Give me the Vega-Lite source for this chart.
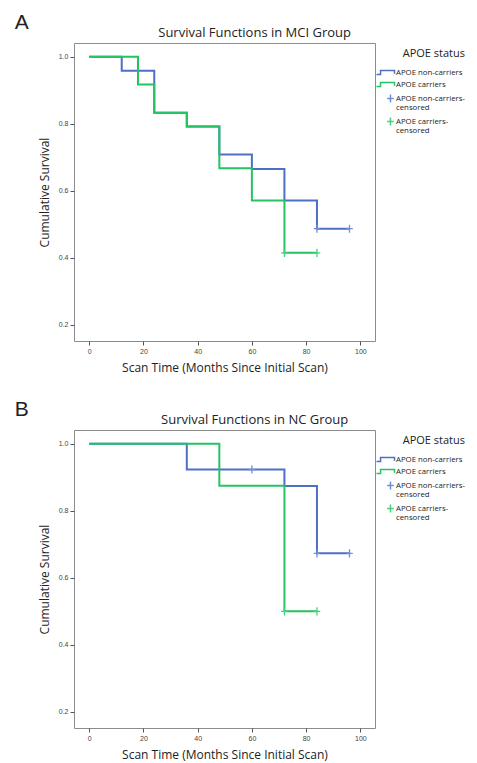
{
  "$schema": "https://vega.github.io/schema/vega-lite/v6.json",
  "padding": {"left": 14, "top": 11, "right": 0, "bottom": 0},
  "resolve": {"scale": {"color": "independent", "shape": "independent"}, "legend": {"color": "independent", "shape": "independent"}},
  "config": {
    "font": "Open Sans",
    "view": {"stroke": "#8c8c8c", "strokeWidth": 1},
    "axis": {
      "domain": false,
      "grid": false,
      "tickColor": "#555555",
      "tickSize": 4,
      "labelFont": "Liberation Sans",
      "labelFontSize": 7,
      "labelColor": "#444444",
      "labelPadding": 2,
      "titleFont": "Open Sans",
      "titleFontSize": 12,
      "titleFontWeight": "normal",
      "titleColor": "#222222"
    },
    "legend": {
      "orient": "right",
      "offset": -1,
      "padding": 5,
      "titleFont": "Open Sans",
      "titleFontSize": 11,
      "titleFontWeight": "normal",
      "titleColor": "#222222",
      "titleAnchor": "end",
      "titlePadding": 8,
      "labelFont": "Open Sans",
      "labelFontSize": 7.8,
      "labelColor": "#222222",
      "labelOffset": 5,
      "rowPadding": 1,
      "symbolSize": 81,
      "symbolStrokeWidth": 1.5
    },
    "title": {"font": "Open Sans", "fontWeight": "normal", "color": "#222222"}
  },
  "datasets": {
    "mci": [
      {"series": "APOE non-carriers", "kind": "event", "time": 0, "surv": 1.0},
      {"series": "APOE non-carriers", "kind": "event", "time": 12, "surv": 0.958},
      {"series": "APOE non-carriers", "kind": "event", "time": 24, "surv": 0.833},
      {"series": "APOE non-carriers", "kind": "event", "time": 36, "surv": 0.792},
      {"series": "APOE non-carriers", "kind": "event", "time": 48, "surv": 0.708},
      {"series": "APOE non-carriers", "kind": "event", "time": 60, "surv": 0.665},
      {"series": "APOE non-carriers", "kind": "event", "time": 72, "surv": 0.571},
      {"series": "APOE non-carriers", "kind": "event", "time": 84, "surv": 0.487},
      {"series": "APOE non-carriers", "kind": "event", "time": 96, "surv": 0.487},
      {"series": "APOE carriers", "kind": "event", "time": 0, "surv": 1.0},
      {"series": "APOE carriers", "kind": "event", "time": 18, "surv": 0.917},
      {"series": "APOE carriers", "kind": "event", "time": 24, "surv": 0.833},
      {"series": "APOE carriers", "kind": "event", "time": 36, "surv": 0.792},
      {"series": "APOE carriers", "kind": "event", "time": 48, "surv": 0.667},
      {"series": "APOE carriers", "kind": "event", "time": 60, "surv": 0.571},
      {"series": "APOE carriers", "kind": "event", "time": 72, "surv": 0.415},
      {"series": "APOE carriers", "kind": "event", "time": 84, "surv": 0.415},
      {"series": "APOE non-carriers-censored", "kind": "censor", "time": 84, "surv": 0.487},
      {"series": "APOE non-carriers-censored", "kind": "censor", "time": 96, "surv": 0.487},
      {"series": "APOE carriers-censored", "kind": "censor", "time": 72, "surv": 0.415},
      {"series": "APOE carriers-censored", "kind": "censor", "time": 84, "surv": 0.415}
    ],
    "nc": [
      {"series": "APOE non-carriers", "kind": "event", "time": 0, "surv": 1.0},
      {"series": "APOE non-carriers", "kind": "event", "time": 36, "surv": 0.923},
      {"series": "APOE non-carriers", "kind": "event", "time": 72, "surv": 0.874},
      {"series": "APOE non-carriers", "kind": "event", "time": 84, "surv": 0.673},
      {"series": "APOE non-carriers", "kind": "event", "time": 96, "surv": 0.673},
      {"series": "APOE carriers", "kind": "event", "time": 0, "surv": 1.0},
      {"series": "APOE carriers", "kind": "event", "time": 48, "surv": 0.875},
      {"series": "APOE carriers", "kind": "event", "time": 72, "surv": 0.5},
      {"series": "APOE carriers", "kind": "event", "time": 84, "surv": 0.5},
      {"series": "APOE non-carriers-censored", "kind": "censor", "time": 60, "surv": 0.923},
      {"series": "APOE non-carriers-censored", "kind": "censor", "time": 84, "surv": 0.673},
      {"series": "APOE non-carriers-censored", "kind": "censor", "time": 96, "surv": 0.673},
      {"series": "APOE carriers-censored", "kind": "censor", "time": 72, "surv": 0.5},
      {"series": "APOE carriers-censored", "kind": "censor", "time": 84, "surv": 0.5}
    ]
  },
  "spacing": 24,
  "vconcat": [
    {
      "title": {"text": "A", "anchor": "start", "frame": "bounds", "fontSize": 21, "font": "Liberation Sans", "dx": -23, "offset": -6},
      "vconcat": [
        {
          "width": 301,
          "height": 298,
          "title": {"text": "Survival Functions in MCI Group", "fontSize": 13, "offset": 3, "frame": "bounds", "anchor": "middle", "dx": 48},
          "data": {"name": "mci"},
          "layer": [
            {
              "transform": [{"filter": "datum.kind == 'event'"}],
              "mark": {"type": "line", "interpolate": "step-after", "strokeWidth": 2},
              "encoding": {
                "x": {"field": "time", "type": "quantitative", "scale": {"domain": [-5.6, 105.4], "nice": false, "zero": false}, "axis": {"values": [0, 20, 40, 60, 80, 100], "title": "Scan Time (Months Since Initial Scan)", "titlePadding": 8}},
                "y": {"field": "surv", "type": "quantitative", "scale": {"domain": [0.152, 1.041], "nice": false, "zero": false}, "axis": {"values": [0.2, 0.4, 0.6, 0.8, 1.0], "format": ".1f", "title": "Cumulative Survival", "titlePadding": 7}},
                "color": {"field": "series", "type": "nominal", "scale": {"domain": ["APOE non-carriers", "APOE carriers", "APOE non-carriers-censored", "APOE carriers-censored"], "range": ["#4d70c6", "#25c462", "#6f8fd8", "#45d27c"]}, "legend": {"title": "APOE status", "labelExpr": "datum.label == 'APOE non-carriers-censored' ? ['APOE non-carriers-', 'censored'] : datum.label == 'APOE carriers-censored' ? ['APOE carriers-', 'censored'] : datum.label"}}
              }
            },
            {
              "transform": [{"filter": "datum.kind == 'censor'"}],
              "mark": {"type": "point", "size": 81, "filled": false, "strokeWidth": 1.3, "opacity": 1, "xOffset": -4.95},
              "encoding": {
                "x": {"field": "time", "type": "quantitative"},
                "y": {"field": "surv", "type": "quantitative"},
                "color": {"field": "series", "type": "nominal", "legend": {"title": "APOE status", "labelExpr": "datum.label == 'APOE non-carriers-censored' ? ['APOE non-carriers-', 'censored'] : datum.label == 'APOE carriers-censored' ? ['APOE carriers-', 'censored'] : datum.label"}},
                "shape": {"field": "series", "type": "nominal", "scale": {"domain": ["APOE non-carriers", "APOE carriers", "APOE non-carriers-censored", "APOE carriers-censored"], "range": ["M-2,0.45H-1.1V-0.45H2V0.3", "M-2,0.45H-1.1V-0.45H2V0.3", "M0.37,0H1.83M1.1,-0.9V0.9", "M0.37,0H1.83M1.1,-0.9V0.9"]}, "legend": {"title": "APOE status", "labelExpr": "datum.label == 'APOE non-carriers-censored' ? ['APOE non-carriers-', 'censored'] : datum.label == 'APOE carriers-censored' ? ['APOE carriers-', 'censored'] : datum.label"}}
              }
            }
          ]
        }
      ]
    },
    {
      "title": {"text": "B", "anchor": "start", "frame": "bounds", "fontSize": 21, "font": "Liberation Sans", "dx": -23, "offset": -6},
      "vconcat": [
        {
          "width": 301,
          "height": 298,
          "title": {"text": "Survival Functions in NC Group", "fontSize": 13, "offset": 3, "frame": "bounds", "anchor": "middle", "dx": 48},
          "data": {"name": "nc"},
          "layer": [
            {
              "transform": [{"filter": "datum.kind == 'event'"}],
              "mark": {"type": "line", "interpolate": "step-after", "strokeWidth": 2},
              "encoding": {
                "x": {"field": "time", "type": "quantitative", "scale": {"domain": [-5.6, 105.4], "nice": false, "zero": false}, "axis": {"values": [0, 20, 40, 60, 80, 100], "title": "Scan Time (Months Since Initial Scan)", "titlePadding": 8}},
                "y": {"field": "surv", "type": "quantitative", "scale": {"domain": [0.152, 1.041], "nice": false, "zero": false}, "axis": {"values": [0.2, 0.4, 0.6, 0.8, 1.0], "format": ".1f", "title": "Cumulative Survival", "titlePadding": 7}},
                "color": {"field": "series", "type": "nominal", "scale": {"domain": ["APOE non-carriers", "APOE carriers", "APOE non-carriers-censored", "APOE carriers-censored"], "range": ["#4d70c6", "#25c462", "#6f8fd8", "#45d27c"]}, "legend": {"title": "APOE status", "labelExpr": "datum.label == 'APOE non-carriers-censored' ? ['APOE non-carriers-', 'censored'] : datum.label == 'APOE carriers-censored' ? ['APOE carriers-', 'censored'] : datum.label"}}
              }
            },
            {
              "transform": [{"filter": "datum.kind == 'censor'"}],
              "mark": {"type": "point", "size": 81, "filled": false, "strokeWidth": 1.3, "opacity": 1, "xOffset": -4.95},
              "encoding": {
                "x": {"field": "time", "type": "quantitative"},
                "y": {"field": "surv", "type": "quantitative"},
                "color": {"field": "series", "type": "nominal", "legend": {"title": "APOE status", "labelExpr": "datum.label == 'APOE non-carriers-censored' ? ['APOE non-carriers-', 'censored'] : datum.label == 'APOE carriers-censored' ? ['APOE carriers-', 'censored'] : datum.label"}},
                "shape": {"field": "series", "type": "nominal", "scale": {"domain": ["APOE non-carriers", "APOE carriers", "APOE non-carriers-censored", "APOE carriers-censored"], "range": ["M-2,0.45H-1.1V-0.45H2V0.3", "M-2,0.45H-1.1V-0.45H2V0.3", "M0.37,0H1.83M1.1,-0.9V0.9", "M0.37,0H1.83M1.1,-0.9V0.9"]}, "legend": {"title": "APOE status", "labelExpr": "datum.label == 'APOE non-carriers-censored' ? ['APOE non-carriers-', 'censored'] : datum.label == 'APOE carriers-censored' ? ['APOE carriers-', 'censored'] : datum.label"}}
              }
            }
          ]
        }
      ]
    }
  ]
}
